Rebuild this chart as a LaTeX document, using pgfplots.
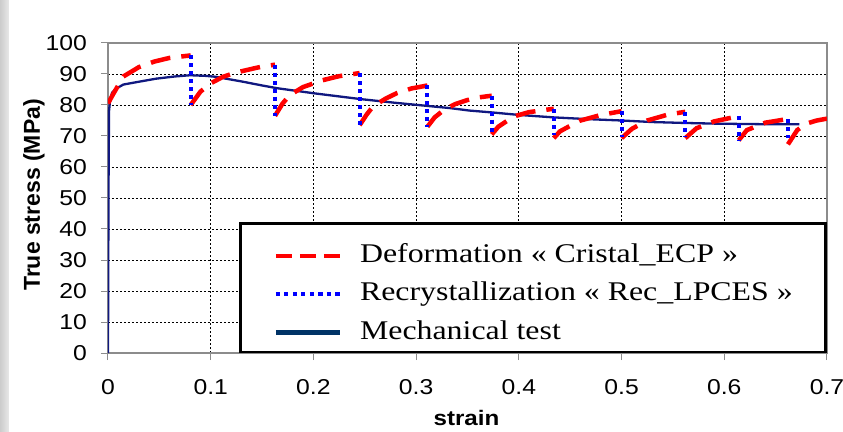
\documentclass[border=0pt]{standalone}
\usepackage{fontspec}
\setmainfont{Liberation Sans}
\newfontfamily\tickfont[FakeStretch=1.15]{Liberation Sans}
\newfontfamily\legfont[FakeStretch=1.18]{Liberation Serif}
\usepackage{pgfplots}
\pgfplotsset{compat=1.18}
\definecolor{navyline}{HTML}{101880}
\definecolor{navyleg}{HTML}{003366}
\definecolor{axgray}{HTML}{8C8C8C}
\begin{document}
\begin{tikzpicture}
\useasboundingbox (-108pt,-78pt) rectangle (735pt,353pt);
\fill[white] (-108pt,-78pt) rectangle (735pt,353pt);
\fill[left color=gray!40, right color=gray!18] (-108pt,-78pt) rectangle (-99pt,353pt);
\begin{axis}[
  scale only axis, width=719pt, height=310pt,
  xmin=0, xmax=0.7, ymin=0, ymax=100,
  xtick={0,0.1,0.2,0.3,0.4,0.5,0.6,0.7},
  ytick={0,10,20,30,40,50,60,70,80,90,100},
  /pgf/number format/assume math mode=true,
  /pgf/number format/fixed,
  ticklabel style={font=\tickfont\fontsize{21.5}{21.5}\selectfont, inner sep=0pt},
  xticklabel style={anchor=north, yshift=-19pt},
  yticklabel style={anchor=east, xshift=-14pt},
  tick pos=left, tick align=outside, major tick length=7pt,
  tick style={axgray, line width=1pt},
  axis line style={axgray, line width=1.2pt},
  grid=major,
  grid style={black, line width=0.8pt, dash pattern=on 2pt off 2pt},
  xlabel={strain},
  ylabel={True stress (MPa)},
  xlabel style={font=\tickfont\bfseries\fontsize{21}{21}\selectfont, inner sep=0pt, at={(axis description cs:0.4986,-0.2323)}, anchor=base},
  ylabel style={font=\bfseries\fontsize{23}{23}\selectfont, inner sep=0pt, at={(axis description cs:-0.1029,0.51)}, anchor=center},
  unbounded coords=jump,
  legend image code/.code={\draw[#1] (0pt,6.5pt) -- (64pt,6.5pt);},
  legend cell align=left,
  legend style={at={(rel axis cs:1,0)}, anchor=south east, draw=black, line width=2.5pt, fill=white,
    inner xsep=33pt, inner ysep=10.7pt, row sep=8.7pt,
    font=\legfont\fontsize{27}{27}\selectfont,
    nodes={inner sep=0pt, text height=27.8pt, text depth=2pt, anchor=base west},
    /tikz/every odd column/.append style={column sep=18pt}},
]
\addlegendimage{red, line width=4pt, dash pattern=on 16pt off 8pt}
\addlegendentry{Deformation « Cristal\_ECP »}
\addlegendimage{blue, line width=4.2pt, dash pattern=on 4.2pt off 4.3pt}
\addlegendentry{Recrystallization « Rec\_LPCES »}
\addlegendimage{navyleg, line width=4.5pt}
\addlegendentry{Mechanical test}

% Mechanical test
\addplot[navyline, line width=2.3pt, forget plot] coordinates {
(0,0) (0.0005,53) (0.001,78) (0.002,81.5) (0.004,84) (0.008,85.3) (0.015,86.6)
(0.03,87.5) (0.047,88.5) (0.065,89.2) (0.08,89.6) (0.095,89.4) (0.105,89.1)
(0.113,88.6) (0.13,87.6) (0.15,86.3) (0.165,85.4) (0.2,83.8) (0.246,81.9)
(0.28,80.7) (0.311,79.7) (0.333,79) (0.352,78.2) (0.374,77.6) (0.4,76.8)
(0.434,76) (0.47,75.4) (0.5,75) (0.53,74.5) (0.562,74.2) (0.59,74) (0.613,73.9)
(0.64,73.8) (0.662,73.8) (0.673,73.8)
};

% Deformation (Cristal_ECP)
\addplot[red, line width=4.5pt, dash pattern=on 20pt off 11pt, forget plot] coordinates {
(0,80.5) (0.005,83.5) (0.015,89.2) (0.03,92.2) (0.045,94) (0.06,95.2) (0.0805,96)
(0.0805,nan)
(0.0805,80) (0.09,84.3) (0.1,87) (0.112,89.1) (0.125,90.5) (0.138,91.5) (0.15,92.4) (0.1626,93)
(0.1626,nan)
(0.1626,76.5) (0.17,80.5) (0.177,83.2) (0.19,85.8) (0.209,88) (0.225,89.3) (0.245,90.3)
(0.245,nan)
(0.245,73.5) (0.252,77) (0.258,79.5) (0.27,82) (0.281,83.8) (0.295,85.3) (0.311,86.3)
(0.311,nan)
(0.311,73) (0.318,76) (0.327,78.4) (0.338,80.3) (0.35,81.6) (0.362,82.5) (0.3736,83)
(0.3736,nan)
(0.3736,70.5) (0.38,73) (0.395,76.3) (0.41,77.7) (0.434,78.8)
(0.434,nan)
(0.434,69.3) (0.44,71.5) (0.459,74.9) (0.48,76.8) (0.5,78)
(0.5,nan)
(0.5,69.3) (0.51,72.3) (0.525,75) (0.545,76.9) (0.562,77.8)
(0.562,nan)
(0.562,69.3) (0.573,72.5) (0.59,74.7) (0.614,76.4)
(0.614,nan)
(0.614,68.6) (0.622,71.9) (0.64,74.3) (0.662,75.5)
(0.662,nan)
(0.662,67.3) (0.671,71.9) (0.68,74) (0.69,75) (0.7,75.6)
};

% Recrystallization (Rec_LPCES)
\addplot[blue, line width=4pt, dash pattern=on 4pt off 4pt, forget plot] coordinates {
(0.0805,96) (0.0805,80) (0.0805,nan)
(0.1626,93) (0.1626,76.5) (0.1626,nan)
(0.245,90.3) (0.245,73.5) (0.245,nan)
(0.311,86.3) (0.311,73) (0.311,nan)
(0.3736,83) (0.3736,70.5) (0.3736,nan)
(0.434,78.7) (0.434,70.2) (0.434,nan)
(0.5,78.2) (0.5,69.8) (0.5,nan)
(0.562,77.8) (0.562,69.6) (0.562,nan)
(0.614,76.5) (0.614,68.7) (0.614,nan)
(0.662,75.4) (0.662,69.2)
};
\end{axis}
\end{tikzpicture}
\end{document}
